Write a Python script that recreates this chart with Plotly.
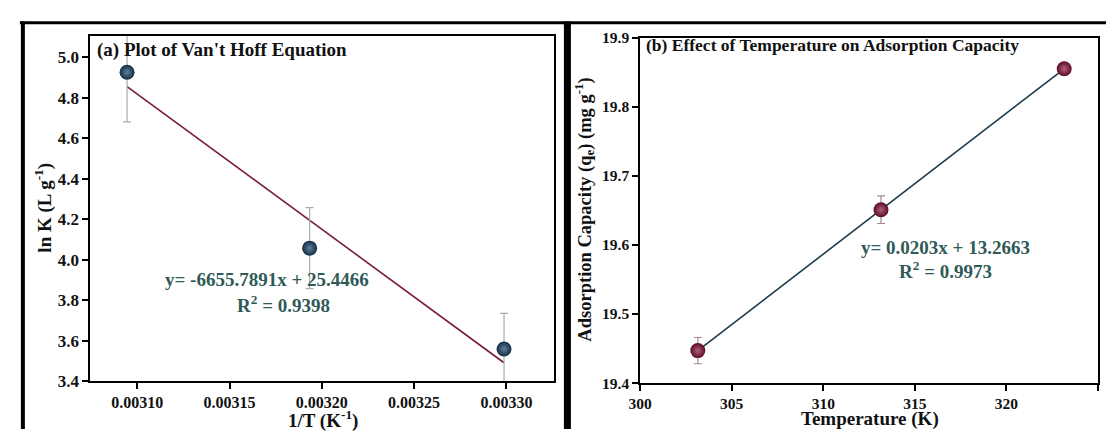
import plotly.graph_objects as go

W, H = 1106, 439

# ---- data: panel (a) Van't Hoff ----
inv_T = [0.0030945, 0.0031934, 0.0032987]
ln_K = [4.926, 4.057, 3.559]
ln_K_err = [0.245, 0.20, 0.176]
fit_a_x = [0.0030945, 0.0032987]
fit_a_y = [4.855, 3.491]
a_xticks = [0.00310, 0.00315, 0.00320, 0.00325, 0.00330]
a_yticks = [3.4, 3.6, 3.8, 4.0, 4.2, 4.4, 4.6, 4.8, 5.0]

# ---- data: panel (b) Temperature effect ----
temp_K = [303.15, 313.15, 323.15]
qe = [19.447, 19.651, 19.855]
qe_err = [0.019, 0.020, 0.005]
fit_b_x = [303.15, 323.15]
fit_b_y = [19.447, 19.855]
b_xticks = [300, 305, 310, 315, 320, 325]
b_yticks = [19.4, 19.5, 19.6, 19.7, 19.8, 19.9]

FONT = "Liberation Serif"
TXT = "#2f5a57"

def px(x):
    return x / W

def py(y):
    return 1 - y / H

fig = go.Figure()

fig.add_trace(go.Scatter(x=fit_a_x, y=fit_a_y, mode="lines",
                         line=dict(color="#7a1c34", width=1.6),
                         xaxis="x", yaxis="y", showlegend=False))
fig.add_trace(go.Scatter(x=inv_T, y=ln_K, mode="markers",
                         error_y=dict(type="data", array=ln_K_err, color="#a4adb4",
                                      thickness=1.2, width=4),
                         marker=dict(size=15, color="#132c44",
                                     gradient=dict(type="radial", color="#5f7f98"),
                                     line=dict(width=0)),
                         xaxis="x", yaxis="y", showlegend=False))

fig.add_trace(go.Scatter(x=fit_b_x, y=fit_b_y, mode="lines",
                         line=dict(color="#1f3c4c", width=1.6),
                         xaxis="x2", yaxis="y2", showlegend=False))
fig.add_trace(go.Scatter(x=temp_K, y=qe, mode="markers",
                         error_y=dict(type="data", array=qe_err, color="#a88894",
                                      thickness=1.2, width=4),
                         marker=dict(size=15, color="#5c0a26",
                                     gradient=dict(type="radial", color="#b0607e"),
                                     line=dict(width=0)),
                         xaxis="x2", yaxis="y2", showlegend=False))

axis_common = dict(showline=True, linecolor="black", linewidth=1.6, mirror=True,
                   ticks="outside", ticklen=6, tickwidth=1.5, tickcolor="black",
                   showgrid=False, zeroline=False)

fig.update_layout(
    width=W, height=H,
    margin=dict(l=0, r=0, t=0, b=0),
    paper_bgcolor="white", plot_bgcolor="white",
    xaxis=dict(axis_common, domain=[px(79), px(548)], range=[0.0030745, 0.0033258],
               tickvals=a_xticks, ticktext=[f"<b>{v:.5f}</b>" for v in a_xticks],
               anchor="y", tickfont=dict(family=FONT, size=16, color="#111")),
    yaxis=dict(axis_common, domain=[py(389), py(28)], range=[3.4, 5.106],
               tickvals=a_yticks, ticktext=[f"<b>{v:.1f}</b>" for v in a_yticks],
               anchor="x", tickfont=dict(family=FONT, size=17, color="#111")),
    xaxis2=dict(axis_common, domain=[px(635), px(1098)], range=[300, 325],
                tickvals=b_xticks, ticktext=[f"<b>{v}</b>" for v in b_xticks],
                anchor="y2", tickfont=dict(family=FONT, size=15.5, color="#111")),
    yaxis2=dict(axis_common, domain=[py(391), py(30)], range=[19.4, 19.9],
                tickvals=b_yticks, ticktext=[f"<b>{v:.1f}</b>" for v in b_yticks],
                anchor="x2", tickfont=dict(family=FONT, size=15.5, color="#111")),
)

def ann(text, x, y, size, color="#111", xanchor="center", angle=0):
    fig.add_annotation(text=text, x=px(x), y=py(y), xref="paper", yref="paper",
                       xanchor=xanchor, yanchor="middle", showarrow=False,
                       textangle=angle,
                       font=dict(family=FONT, size=size, color=color))

# panel titles
ann("<b>(a) Plot of Van't Hoff Equation</b>", 84, 43, 19, xanchor="left")
ann("<b>(b) Effect of Temperature on Adsorption Capacity</b>", 639, 38, 17.5, xanchor="left")

# axis titles
ann("<b>1/T (K<sup>-1</sup>)</b>", 314, 429, 19)
ann("<b>Temperature (K)</b>", 867, 429, 19)
ann("<b>ln K (L g<sup>-1</sup>)</b>", 32, 208, 19, angle=-90)
ann("<b>Adsorption Capacity (q<sub>e</sub>) (mg g<sup>-1</sup>)</b>", 579, 210, 18.5, angle=-90)

# fit equations
ann("<b>y= -6655.7891x + 25.4466</b>", 258, 283, 19, color=TXT)
ann("<b>R<sup>2</sup> = 0.9398</b>", 274, 308, 19, color=TXT)
ann("<b>y= 0.0203x + 13.2663</b>", 944, 249, 19, color=TXT)
ann("<b>R<sup>2</sup> = 0.9973</b>", 944, 273, 19, color=TXT)

# outer black frames
fig.add_shape(type="line", xref="paper", yref="paper", x0=px(8), x1=1, y0=py(14.5), y1=py(14.5),
              line=dict(color="black", width=3))
fig.add_shape(type="line", xref="paper", yref="paper", x0=px(11), x1=px(11), y0=py(13), y1=0,
              line=dict(color="black", width=4))
fig.add_shape(type="line", xref="paper", yref="paper", x0=px(561.5), x1=px(561.5), y0=py(13), y1=0,
              line=dict(color="black", width=7))

fig.write_html("out.html")
